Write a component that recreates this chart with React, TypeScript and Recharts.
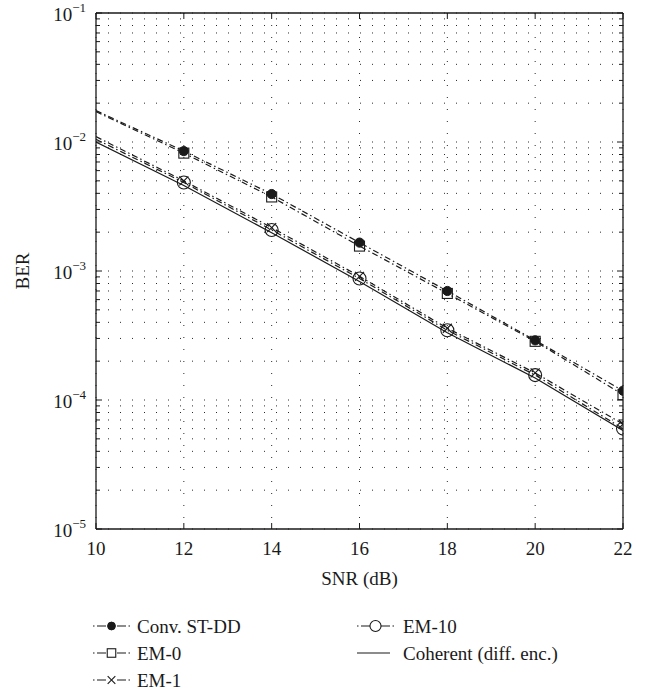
import { LineChart, Line, XAxis, YAxis, CartesianGrid, ReferenceLine } from 'recharts';

// SNR grid (dB) and BER per scheme
const snr = [10, 12, 14, 16, 18, 20, 22];
const convStDd = [1.75e-2, 8.5e-3, 3.95e-3, 1.66e-3, 7.0e-4, 2.9e-4, 1.18e-4];
const em0 = [1.72e-2, 8.2e-3, 3.75e-3, 1.56e-3, 6.7e-4, 2.85e-4, 1.1e-4];
const em1 = [1.1e-2, 5.0e-3, 2.17e-3, 9.1e-4, 3.6e-4, 1.62e-4, 6.5e-5];
const em10 = [1.05e-2, 4.85e-3, 2.08e-3, 8.75e-4, 3.47e-4, 1.56e-4, 6.0e-5];
const coherent = [1.0e-2, 4.6e-3, 1.98e-3, 8.3e-4, 3.32e-4, 1.48e-4, 5.8e-5];

// markers only drawn on these SNR values
const markedSnr = [12, 14, 16, 18, 20, 22];

const xTicks = [10, 12, 14, 16, 18, 20, 22];
const decades = [1e-5, 1e-4, 1e-3, 1e-2];
const mantissas = [1, 2, 3, 4, 5, 6, 7, 8, 9];
const yTicks = [...decades.flatMap((d) => mantissas.map((m) => m * d)), 1e-1];

const INK = '#1a1a1a';
const FONT = '"Liberation Serif", "Times New Roman", serif';
const DASH_DOT = '6 3 1.5 3';
// legend swatch: dot, dash, (marker), dash, dot
const LEGEND_DASH = '1.5 2.5 9 11 9 2.5 1.5';

const W = 647;
const H = 600;
const MARGIN = { top: 13, right: 24, left: 0, bottom: 0 };
const Y_AXIS_W = 96;
const X_AXIS_H = 71;
const PLOT_LEFT = MARGIN.left + Y_AXIS_W;
const PLOT_RIGHT = W - MARGIN.right;
const PLOT_TOP = MARGIN.top;
const PLOT_BOTTOM = H - MARGIN.bottom - X_AXIS_H;

type MarkerKind = 'dot' | 'square' | 'cross' | 'circle' | 'none';

const series: { key: string; name: string; values: number[]; marker: MarkerKind; dash?: string }[] = [
  { key: 'conv', name: 'Conv. ST-DD', values: convStDd, marker: 'dot', dash: DASH_DOT },
  { key: 'em0', name: 'EM-0', values: em0, marker: 'square', dash: DASH_DOT },
  { key: 'em1', name: 'EM-1', values: em1, marker: 'cross', dash: DASH_DOT },
  { key: 'em10', name: 'EM-10', values: em10, marker: 'circle', dash: DASH_DOT },
  { key: 'coh', name: 'Coherent (diff. enc.)', values: coherent, marker: 'none' },
];

const data = snr.map((s, i) => {
  const row: Record<string, number> = { snr: s };
  series.forEach((sr) => {
    row[sr.key] = sr.values[i];
  });
  return row;
});

const Marker = ({ kind, cx, cy, scale = 1 }: { kind: MarkerKind; cx: number; cy: number; scale?: number }) => {
  if (kind === 'dot') return <circle cx={cx} cy={cy} r={4.6 * scale} fill={INK} stroke={INK} />;
  if (kind === 'square') {
    const h = 5 * scale;
    return <rect x={cx - h} y={cy - h} width={2 * h} height={2 * h} fill="none" stroke={INK} strokeWidth={1.1} />;
  }
  if (kind === 'cross') {
    const h = 4.5 * scale;
    return (
      <g stroke={INK} strokeWidth={1.1}>
        <line x1={cx - h} y1={cy - h} x2={cx + h} y2={cy + h} />
        <line x1={cx - h} y1={cy + h} x2={cx + h} y2={cy - h} />
      </g>
    );
  }
  if (kind === 'circle') return <circle cx={cx} cy={cy} r={6.5 * scale} fill="none" stroke={INK} strokeWidth={1.1} />;
  return null;
};

const makeDot = (kind: MarkerKind) => (p: any) => {
  const k = `${kind}-${p.index}`;
  if (kind === 'none' || !markedSnr.includes(p.payload?.snr)) return <g key={k} />;
  return (
    <g key={k}>
      <Marker kind={kind} cx={p.cx} cy={p.cy} />
    </g>
  );
};

const YTick = (props: any) => {
  const { y, payload } = props;
  const v = payload.value as number;
  const lg = Math.log10(v);
  const exp = Math.round(lg);
  const isDecade = Math.abs(lg - exp) < 1e-6;
  const len = isDecade ? 6 : 4;
  return (
    <g>
      <line x1={PLOT_LEFT} x2={PLOT_LEFT + len} y1={y} y2={y} stroke={INK} />
      <line x1={PLOT_RIGHT - len} x2={PLOT_RIGHT} y1={y} y2={y} stroke={INK} />
      {isDecade && (
        <text x={PLOT_LEFT - 10} y={y + 8} textAnchor="end" fontSize={19} fontFamily={FONT} fill={INK}>
          10
          <tspan dy={-9} fontSize={13}>
            {`\u2212${-exp}`}
          </tspan>
        </text>
      )}
    </g>
  );
};

const XTick = (props: any) => {
  const { x, payload } = props;
  return (
    <g>
      <line x1={x} x2={x} y1={PLOT_BOTTOM} y2={PLOT_BOTTOM - 6} stroke={INK} />
      <line x1={x} x2={x} y1={PLOT_TOP} y2={PLOT_TOP + 6} stroke={INK} />
      <text x={x} y={PLOT_BOTTOM + 26} textAnchor="middle" fontSize={19} fontFamily={FONT} fill={INK}>
        {payload.value}
      </text>
    </g>
  );
};

const SnrTitle = (props: any) => {
  const vb = props.viewBox || {};
  return (
    <text x={vb.x + vb.width / 2} y={vb.y + 56} textAnchor="middle" fontSize={19} fontFamily={FONT} fill={INK}>
      SNR (dB)
    </text>
  );
};

const BerTitle = (props: any) => {
  const vb = props.viewBox || {};
  const cx = vb.x + 29;
  const cy = vb.y + vb.height / 2;
  return (
    <text x={cx} y={cy} transform={`rotate(-90 ${cx} ${cy})`} textAnchor="middle" fontSize={19} fontFamily={FONT} fill={INK}>
      BER
    </text>
  );
};

// legend placement: two columns, series flow down the first column then the second
const legendCols = [
  { line: [93, 130], text: 137 },
  { line: [357, 394], text: 403 },
];
const legendRows = [626, 653, 680];

const LegendBlock = () => (
  <svg width={W} height={693} style={{ position: 'absolute', left: 0, top: 0, pointerEvents: 'none' }}>
    {series.map((s, i) => {
      const col = legendCols[i < 3 ? 0 : 1];
      const y = legendRows[i < 3 ? i : i - 3];
      const [x1, x2] = col.line;
      const mid = (x1 + x2) / 2;
      return (
        <g key={s.key}>
          <line
            x1={x1}
            x2={s.dash ? x2 : x2 - 4}
            y1={y}
            y2={y}
            stroke={INK}
            strokeWidth={1.1}
            strokeDasharray={s.dash ? LEGEND_DASH : undefined}
          />
          <Marker kind={s.marker} cx={mid} cy={y} scale={0.85} />
          <text x={col.text} y={y + 7} fontSize={19} fontFamily={FONT} fill={INK}>
            {s.name}
          </text>
        </g>
      );
    })}
  </svg>
);

export default function App() {
  return (
    <div style={{ position: 'absolute', left: 0, top: 0, width: W, height: 693, background: '#fff' }}>
      <LineChart width={W} height={H} data={data} margin={MARGIN}>
        <CartesianGrid stroke="#2a2a2a" strokeDasharray="1 11" strokeWidth={1} />
        <XAxis
          dataKey="snr"
          type="number"
          domain={[10, 22]}
          ticks={xTicks}
          interval={0}
          height={X_AXIS_H}
          tick={<XTick />}
          tickLine={false}
          axisLine={{ stroke: INK, strokeWidth: 1.3 }}
          label={<SnrTitle />}
          allowDataOverflow
        />
        <YAxis
          type="number"
          scale="log"
          domain={[1e-5, 1e-1]}
          ticks={yTicks}
          interval={0}
          width={Y_AXIS_W}
          tick={<YTick />}
          tickLine={false}
          axisLine={{ stroke: INK, strokeWidth: 1.3 }}
          label={<BerTitle />}
          allowDataOverflow
        />
        <ReferenceLine y={1e-1} stroke={INK} strokeWidth={1.3} />
        <ReferenceLine x={22} stroke={INK} strokeWidth={1.3} />
        {series.map((s) => (
          <Line
            key={s.key}
            dataKey={s.key}
            name={s.name}
            type="linear"
            stroke={INK}
            strokeWidth={1.2}
            strokeDasharray={s.dash}
            dot={makeDot(s.marker)}
            activeDot={false}
            isAnimationActive={false}
          />
        ))}
      </LineChart>
      <LegendBlock />
    </div>
  );
}
